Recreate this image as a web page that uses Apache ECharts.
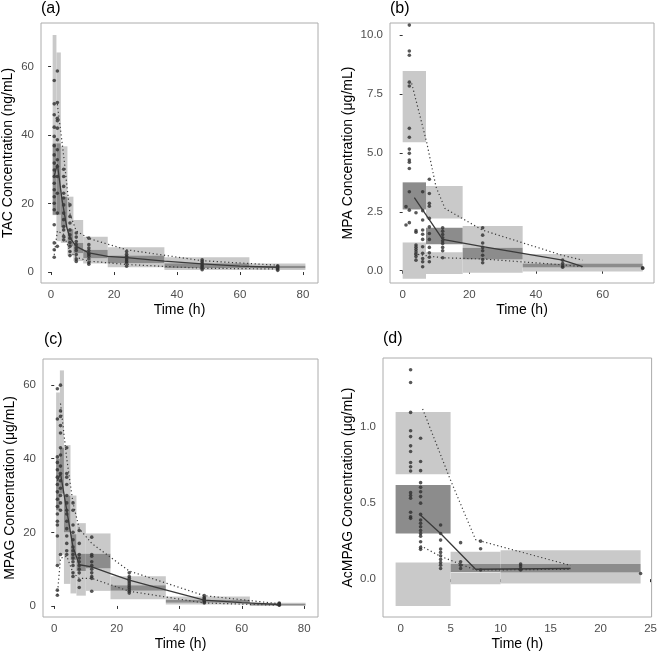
<!DOCTYPE html>
<html>
<head>
<meta charset="utf-8">
<script src="https://cdn.jsdelivr.net/npm/echarts@6/dist/echarts.min.js"></script>
<style>
html,body{margin:0;padding:0;background:#fff;}
#chart{width:660px;height:652px;}
</style>
</head>
<body>
<div id="chart"></div>
<script>
// ---------- Panel (a) TAC ----------
const aBinX = [[0.5,1.7],[1.7,3.1],[3.1,5.2],[5.2,7.1],[7.1,10.2],[10.2,18],[18,36],[36,63],[63,80.8]];
const aHi = [[37.6,69.2],[37.6,64.1],[22,36.7],[12,22],[8.5,15.2],[6.5,10.3],[4.8,7.2],[2.6,4.3],[1.8,2.5]];
const aMedCI = [[16.7,37.6],[16.7,37.6],[13,22],[7.5,12.5],[5.5,8.5],[4,6.5],[2.6,4.8],[1.2,2.6],[1.1,1.8]];
const aLo = [[16.6,16.7],[9,16.7],[8.5,13],[4.8,7.5],[3.2,5.5],[2.5,4],[1.4,2.6],[0.6,1.2],[0.6,1.1]];
const aTimes = [1,2,4,6,8,12,24,48,72];
const aObs = [
  [55.9,49.1,45.9,42.3,39.6,36.9,34.2,31.8,29.8,27.9,25.9,24,22,20.1,18.2,13.8,8.5,6.5,4.3],
  [58.7,49.5,44.9,44.2,42,38.6,35.7,32.8,30.8,27.9,23,17.2,7.5],
  [30,27.9,25,23,21.6,19.6,17.2,15.3,13.3,12.3,10.4,9.4],
  [19.6,16.2,14.3,12.3,10.9,9.9,8.6,7.5,6,4.8],
  [11.4,10.2,8.9,8,7,6.3,5.1,3.8,3.1],
  [9.9,8,7,6.3,5.5,5.1,4.6,3.8,2.8,2.3],
  [6,5.2,4.6,4.1,3.6,3.1,2.6,1.7],
  [3.6,3.1,2.6,2.1,1.7,1.2,0.7],
  [1.8,1.5,1.2,0.9,0.5]
];
const aMedT = [1,2,3.5,5,6,8,12,18,24,36,48,60,72];
const aMedV = [28,31.5,21,13,10,7.5,5.6,4.6,4.2,3.2,2.4,1.7,1.4];
const aP95T = [2,4,6,8,12,24,48,72];
const aP95V = [49,34,17,12,9.8,6.5,3.3,2.0];
const aP5T = [1,2,4,6,8,12,24,48,72];
const aP5V = [5,12,11,6,4.3,3.2,2.2,1.1,0.9];

// ---------- Panel (b) MPA ----------
const bBinX = [[0,7],[7,18],[18,36],[36,72]];
const bHi = [[5.45,8.47],[2.22,3.6],[0.98,1.9],[0.31,0.71]];
const bMedCI = [[2.6,3.75],[1.12,1.82],[0.48,0.98],[0.14,0.31]];
const bLo = [[-0.34,1.2],[-0.14,0.78],[-0.08,0.48],[-0.03,0.14]];
const bTimes = [1,2,4,6,8,12,24,48,72];
const bObs = [
  [2.72,1.94],
  [10.42,9.32,9.14,8.0,7.84,6.04,5.66,5.16,4.98,4.7,4.6,4.34,3.35,2.57,2.04],
  [2.46,1.7,1.63,1.09,1.0,0.9,0.8,0.7,0.6,0.45],
  [3.35,2.55,2.15,1.73,1.55,1.33,1.02,0.74,0.52,0.38,0.17],
  [3.88,3.28,2.86,2.74,2.22,1.86,1.58,1.33,0.99,0.76,0.57,0.38],
  [1.82,1.68,1.54,1.4,1.27,1.16,0.99,0.85,0.55],
  [1.82,1.51,1.18,0.99,0.85,0.66,0.48,0.34],
  [0.45,0.31,0.2,0.15],
  [0.13,0.1]
];
const bMedT = [3.5,12,24,48,54];
const bMedV = [3.1,1.33,1.02,0.45,0.17];
const bP95T = [2.7,7.2,10,12.7,24,48,54];
const bP95V = [7.95,5.45,3.56,2.64,1.72,0.65,0.45];
const bP5T = [3.5,8,12,24,48,54];
const bP5V = [0.72,0.62,0.55,0.5,0.25,0.17];

// ---------- Panel (c) MPAG ----------
const cBinX = [[0.6,1.8],[1.8,3.1],[3.1,5.2],[5.2,7.1],[7.1,10.1],[10.1,18],[18,35.7],[35.7,62.6],[62.6,80.4]];
const cHi = [[40,58],[43,64],[30,43.7],[19.5,30],[14.2,22.5],[14.2,19.7],[5.6,8.1],[1.7,2.6],[0.6,0.9]];
const cMedCI = [[26,40],[30.5,43],[20,30],[12.5,19.5],[9.5,14.2],[10.2,14.2],[4.1,5.6],[0.9,1.7],[0.1,0.6]];
const cLo = [[11,26],[14,30.5],[6,20],[3.4,12.5],[2.8,9.5],[4.1,10.2],[1.8,4.1],[0.4,0.9],[0,0.1]];
const cTimes = [1,2,4,6,8,12,24,48,72];
const cObs = [
  [59,50.8,40.5,39,37,35,33,31,29,27,25,23,22,19,11,4.3,2.9],
  [60,53,51.5,49,47,43,41,38,36,34,32,30,28,26,14],
  [43,36,35,33,30,28,26,25,23,21,19,17,15,14],
  [28,26,22,20,18,16,15,14,13,12,11,9,8],
  [20.5,17,14,13,12,11,10,9,7,5],
  [18.7,14,13.5,12,11,10,9,8,7.5,4],
  [9,8,7.5,7,6.5,6,5.5,5,4.5,4,3.5],
  [2.8,2.3,2,1.7,1.4,1.1,0.8],
  [0.8,0.6,0.5,0.3,0.2]
];
const cMedT = [1,2,4,6,8,12,18,24,32,48,60,72];
const cMedV = [34,36,26,16,11.2,10.6,8.8,7,5.2,1.6,0.9,0.4];
const cP95T = [2,4,6,8,12,24,48,72];
const cP95V = [55,40,28,21,17,9.5,2.8,0.6];
const cP5T = [1,2,4,6,8,12,24,48,72];
const cP5V = [3,13,13.5,9,7.5,7.5,4,0.8,0.2];

// ---------- Panel (d) AcMPAG ----------
const dBinX = [[-0.5,5],[5,10],[10,24]];
const dHi = [[0.69,1.10],[0.10,0.18],[0.10,0.19]];
const dMedCI = [[0.30,0.62],[0.045,0.10],[0.044,0.10]];
const dLo = [[-0.176,0.11],[-0.033,0.04],[-0.029,0.044]];
const dTimes = [1,2,4,6,8,12,24];
const dObs = [
  [1.378,1.294,1.097,0.976,0.938,0.877,0.84,0.767,0.74,0.712,0.569,0.55,0.532,0.44,0.41,0.40],
  [0.927,0.774,0.714,0.635,0.604,0.575,0.543,0.5,0.426,0.389,0.367,0.345,0.32,0.3,0.283,0.246,0.209,0.196],
  [0.356,0.30,0.257,0.198,0.176,0.154,0.13,0.11,0.092,0.07],
  [0.24,0.114,0.092,0.07],
  [0.25,0.2,0.06],
  [0.099,0.086,0.07,0.06],
  [0.037]
];
const dMedT = [2,4,7.5,17];
const dMedV = [0.42,0.30,0.065,0.07];
const dP95T = [2.2,5,7.5,17];
const dP95V = [1.12,0.65,0.26,0.09];
const dP5T = [2,4,7.5,17];
const dP5V = [0.22,0.15,0.06,0.065];

// tick labels
const aXTicks = [0,20,40,60,80], aYTicks = [0,20,40,60];
const bXTicks = [0,20,40,60], bYTicks = [0,2.5,5,7.5,10];
const cXTicks = [0,20,40,60,80], cYTicks = [0,20,40,60];
const dXTicks = [0,5,10,15,20,25], dYTicks = [0,0.5,1.0];

const LIGHT = '#c9c9c9', DARK = '#8c8c8c', LINE = '#3a3a3a', PT = '#2e2e2e';
const FONT = '"Liberation Sans", Arial, sans-serif';

const panels = [
  {label:'(a)', binX:aBinX, hi:aHi, med:aMedCI, lo:aLo, times:aTimes, obs:aObs,
   medT:aMedT, medV:aMedV, p95T:aP95T, p95V:aP95V, p5T:aP5T, p5V:aP5V,
   grid:{left:41, top:23, width:277, height:260}, xr:[-3.2,84.8], yr:[-3.2,72.7],
   xt:aXTicks, yt:aYTicks, yfmt:v=>String(v), yname:'TAC Concentration (ng/mL)', ygap:26, lab:[41,9]},
  {label:'(b)', binX:bBinX, hi:bHi, med:bMedCI, lo:bLo, times:bTimes, obs:bObs,
   medT:bMedT, medV:bMedV, p95T:bP95T, p95V:bP95V, p5T:bP5T, p5V:bP5V,
   grid:{left:390, top:23, width:264, height:260}, xr:[-3.8,75.4], yr:[-0.52,10.51],
   xt:bXTicks, yt:bYTicks, yfmt:v=>v.toFixed(1), yname:'MPA Concentration (μg/mL)', ygap:35, lab:[390,9]},
  {label:'(c)', binX:cBinX, hi:cHi, med:cMedCI, lo:cLo, times:cTimes, obs:cObs,
   medT:cMedT, medV:cMedV, p95T:cP95T, p95V:cP95V, p5T:cP5T, p5V:cP5V,
   grid:{left:43, top:359, width:275, height:258}, xr:[-3.6,84.4], yr:[-3.0,67.1],
   xt:cXTicks, yt:cYTicks, yfmt:v=>String(v), yname:'MPAG Concentration (μg/mL)', ygap:26, lab:[44,340]},
  {label:'(d)', binX:dBinX, hi:dHi, med:dMedCI, lo:dLo, times:dTimes, obs:dObs,
   medT:dMedT, medV:dMedV, p95T:dP95T, p95V:dP95V, p5T:dP5T, p5V:dP5V,
   grid:{left:383, top:358, width:271, height:259}, xr:[-1.76,25.1], yr:[-0.249,1.455],
   xt:dXTicks, yt:dYTicks, yfmt:v=>v.toFixed(1), yname:'AcMPAG Concentration (μg/mL)', ygap:28, lab:[383,339]}
];

function rectSeries(i, rows, color, z) {
  return {
    type:'custom', xAxisIndex:i, yAxisIndex:i, z:z, silent:true,
    encode:{x:[0,1], y:[2,3]},
    data: rows,
    renderItem: function(params, api) {
      const p1 = api.coord([api.value(0), api.value(3)]);
      const p2 = api.coord([api.value(1), api.value(2)]);
      return {type:'rect', shape:{x:p1[0], y:p1[1], width:p2[0]-p1[0], height:p2[1]-p1[1]},
              style:{fill:color}};
    }
  };
}
function zipXY(t, v){ return t.map((x,k)=>[x, v[k]]); }

const grids=[], xAxes=[], yAxes=[], series=[], graphics=[];
panels.forEach((p, i) => {
  grids.push(Object.assign({show:true, borderColor:'#acacac', borderWidth:1, backgroundColor:'#fff'}, p.grid));
  xAxes.push({
    type:'value', gridIndex:i, min:p.xr[0], max:p.xr[1],
    axisLine:{show:false}, splitLine:{show:false},
    axisTick:{show:true, length:3, customValues:p.xt, lineStyle:{color:'#333', width:1}},
    axisLabel:{customValues:p.xt, color:'#4d4d4d', fontSize:11.5, margin:6, fontFamily:FONT},
    name:'Time (h)', nameLocation:'middle', nameGap:20,
    nameTextStyle:{fontSize:14, color:'#000', fontFamily:FONT}
  });
  yAxes.push({
    type:'value', gridIndex:i, min:p.yr[0], max:p.yr[1],
    axisLine:{show:false}, splitLine:{show:false},
    axisTick:{show:true, length:3, customValues:p.yt, lineStyle:{color:'#333', width:1}},
    axisLabel:{customValues:p.yt, formatter:p.yfmt, color:'#4d4d4d', fontSize:11.5, margin:7, fontFamily:FONT},
    name:p.yname, nameLocation:'middle', nameGap:p.ygap, nameRotate:90,
    nameTextStyle:{fontSize:14, color:'#000', fontFamily:FONT}
  });
  const lightRows = [], darkRows = [];
  p.binX.forEach((b, k) => {
    lightRows.push([b[0], b[1], p.hi[k][0], p.hi[k][1]]);
    lightRows.push([b[0], b[1], p.lo[k][0], p.lo[k][1]]);
    darkRows.push([b[0], b[1], p.med[k][0], p.med[k][1]]);
  });
  series.push(rectSeries(i, lightRows, LIGHT, 1));
  series.push(rectSeries(i, darkRows, DARK, 2));
  const pts = [];
  p.times.forEach((t, k) => p.obs[k].forEach(v => pts.push([t, v])));
  series.push({type:'scatter', xAxisIndex:i, yAxisIndex:i, z:3, silent:true,
    symbolSize:3.6, itemStyle:{color:PT}, data:pts});
  series.push({type:'line', xAxisIndex:i, yAxisIndex:i, z:4, silent:true, symbol:'none',
    lineStyle:{color:LINE, width:1.3}, data:zipXY(p.medT, p.medV)});
  series.push({type:'line', xAxisIndex:i, yAxisIndex:i, z:4, silent:true, symbol:'none',
    lineStyle:{color:LINE, width:1.2, type:[1.2,2.6]}, data:zipXY(p.p95T, p.p95V)});
  series.push({type:'line', xAxisIndex:i, yAxisIndex:i, z:4, silent:true, symbol:'none',
    lineStyle:{color:LINE, width:1.2, type:[1.2,2.6]}, data:zipXY(p.p5T, p.p5V)});
  graphics.push({type:'text', x:p.lab[0], y:p.lab[1],
    style:{text:p.label, font:'16px '+FONT, fill:'#000', verticalAlign:'middle', align:'left'}});
});

const chart = echarts.init(document.getElementById('chart'), null, {renderer:'canvas'});
chart.setOption({
  animation:false,
  backgroundColor:'#fff',
  grid:grids, xAxis:xAxes, yAxis:yAxes, series:series, graphic:graphics
});
</script>
</body>
</html>
